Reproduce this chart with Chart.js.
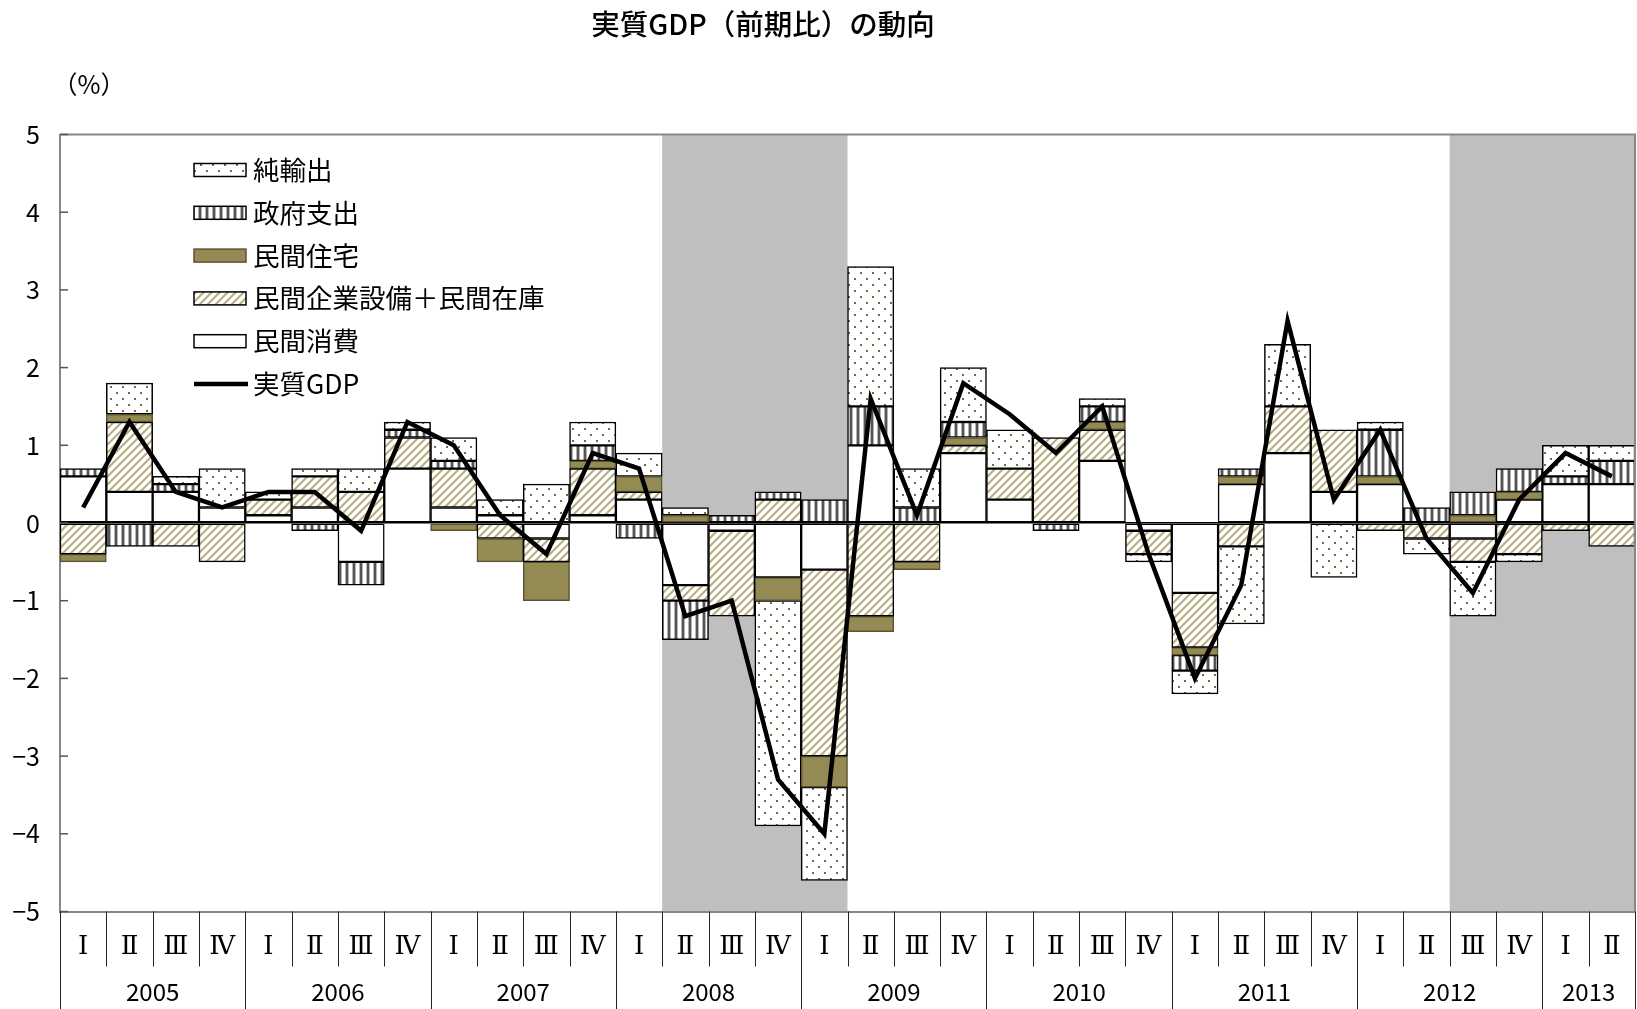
<!DOCTYPE html>
<html>
<head>
<meta charset="utf-8">
<script src="https://cdn.jsdelivr.net/npm/chart.js@4.4.1/dist/chart.umd.min.js"></script>
<style>
html, body { margin: 0; padding: 0; background: #fff; }
#wrap { width: 1637px; height: 1009px; }
</style>
</head>
<body>
<div id="wrap"><canvas id="myChart" width="1637" height="1009"></canvas></div>
<script>
const quarterLabels = ['Ⅰ','Ⅱ','Ⅲ','Ⅳ','Ⅰ','Ⅱ','Ⅲ','Ⅳ','Ⅰ','Ⅱ','Ⅲ','Ⅳ','Ⅰ','Ⅱ','Ⅲ','Ⅳ',
    'Ⅰ','Ⅱ','Ⅲ','Ⅳ','Ⅰ','Ⅱ','Ⅲ','Ⅳ','Ⅰ','Ⅱ','Ⅲ','Ⅳ','Ⅰ','Ⅱ','Ⅲ','Ⅳ','Ⅰ','Ⅱ'];
const years = ['2005','2006','2007','2008','2009','2010','2011','2012','2013'];
const quartersPerYear = [4, 4, 4, 4, 4, 4, 4, 4, 2];
// shaded periods, first and last quarter index
const shadedRanges = [[13, 16], [30, 33]];

const consumption = [0.6, 0.4, 0.4, 0.2, 0.1, 0.2, -0.5, 0.7, 0.2, 0.1, -0.2, 0.1, 0.3, -0.8, -0.1, -0.7,
    -0.6, 1.0, 0, 0.9, 0.3, 0, 0.8, -0.1, -0.9, 0.5, 0.9, 0.4, 0.5, 0, -0.2, 0.3, 0.5, 0.5];
const investment = [-0.4, 0.9, -0.3, -0.5, 0.2, 0.4, 0.4, 0.4, 0.5, -0.2, -0.3, 0.6, 0.1, -0.2, -1.1, 0.3,
    -2.4, -1.2, -0.5, 0.1, 0.4, 1.1, 0.4, -0.3, -0.7, -0.3, 0.6, 0.8, -0.1, -0.2, -0.3, -0.4, -0.1, -0.3];
const housing = [-0.1, 0.1, 0, 0, 0, 0, 0, 0, -0.1, -0.3, -0.5, 0.1, 0.2, 0.1, 0, -0.3,
    -0.4, -0.2, -0.1, 0.1, 0, 0, 0.1, 0, -0.1, 0.1, 0, 0, 0.1, 0, 0.1, 0.1, 0, 0];
const government = [0.1, -0.3, 0.1, 0, 0, -0.1, -0.3, 0.1, 0.1, 0, 0, 0.2, -0.2, -0.5, 0.1, 0.1,
    0.3, 0.5, 0.2, 0.2, 0, -0.1, 0.2, 0, -0.2, 0.1, 0, 0, 0.6, 0.2, 0.3, 0.3, 0.1, 0.3];
const netExports = [0, 0.4, 0.1, 0.5, 0.1, 0.1, 0.3, 0.1, 0.3, 0.2, 0.5, 0.3, 0.3, 0.1, 0, -2.9,
    -1.2, 1.8, 0.5, 0.7, 0.5, 0, 0.1, -0.1, -0.3, -1.0, 0.8, -0.7, 0.1, -0.2, -0.7, -0.1, 0.4, 0.2];
const realGDP = [0.2, 1.3, 0.4, 0.2, 0.4, 0.4, -0.1, 1.3, 1.0, 0.1, -0.4, 0.9, 0.7, -1.2, -1.0, -3.3,
    -4.0, 1.6, 0.1, 1.8, 1.4, 0.9, 1.5, -0.4, -2.0, -0.8, 2.6, 0.3, 1.2, -0.2, -0.9, 0.3, 0.9, 0.6];

const FONT = '"Noto Sans CJK JP", "Noto Sans", sans-serif';
const ctx = document.getElementById('myChart').getContext('2d');

function makePattern(w, h, draw) {
    const c = document.createElement('canvas');
    c.width = w;
    c.height = h;
    const g = c.getContext('2d');
    g.fillStyle = '#fff';
    g.fillRect(0, 0, w, h);
    draw(g);
    return ctx.createPattern(c, 'repeat');
}

const dots = makePattern(12, 12, g => {
    g.fillStyle = '#6f6a50';
    g.fillRect(2, 2, 2, 2);
    g.fillRect(8, 8, 2, 2);
});
const stripes = makePattern(7, 4, g => {
    g.fillStyle = '#b4b4b4';
    g.fillRect(2, 0, 1, 4);
    g.fillRect(5, 0, 1, 4);
    g.fillStyle = '#555';
    g.fillRect(3, 0, 2, 4);
});
const hatch = makePattern(8, 8, g => {
    g.strokeStyle = '#b8ad80';
    g.lineWidth = 2;
    g.beginPath();
    g.moveTo(-1, 9); g.lineTo(9, -1);
    g.moveTo(-1, 1); g.lineTo(1, -1);
    g.moveTo(7, 9); g.lineTo(9, 7);
    g.stroke();
});
const olive = '#948a54';

// year tick positions = middle of each year's quarters
const yearCenters = [];
let start = 0;
quartersPerYear.forEach(n => { yearCenters.push(start + (n - 1) / 2); start += n; });

const backdrop = {
    id: 'backdrop',
    beforeDraw(chart) {
        const {ctx, chartArea: a, scales: {x}} = chart;
        ctx.save();
        ctx.fillStyle = '#fff';
        ctx.fillRect(0, 0, chart.width, chart.height);
        const half = (x.getPixelForValue(1) - x.getPixelForValue(0)) / 2;
        ctx.fillStyle = '#bfbfbf';
        shadedRanges.forEach(([s, e]) => {
            const x0 = x.getPixelForValue(s) - half;
            const x1 = x.getPixelForValue(e) + half;
            ctx.fillRect(x0, a.top, x1 - x0, a.bottom - a.top);
        });
        ctx.restore();
    }
};

const frame = {
    id: 'frame',
    afterDraw(chart) {
        const {ctx, chartArea: a, scales: {x, y}} = chart;
        ctx.save();
        // top and right border
        ctx.strokeStyle = '#878787';
        ctx.lineWidth = 2;
        ctx.beginPath();
        ctx.moveTo(a.left, a.top);
        ctx.lineTo(a.right, a.top);
        ctx.lineTo(a.right, a.bottom);
        ctx.stroke();
        // inner y ticks
        ctx.strokeStyle = '#555';
        ctx.lineWidth = 1.5;
        y.ticks.forEach(t => {
            const py = y.getPixelForValue(t.value);
            ctx.beginPath();
            ctx.moveTo(a.left, py);
            ctx.lineTo(a.left + 8, py);
            ctx.stroke();
        });
        // category separators under the axis
        const half = (x.getPixelForValue(1) - x.getPixelForValue(0)) / 2;
        const yearEdges = [0];
        quartersPerYear.forEach(n => yearEdges.push(yearEdges[yearEdges.length - 1] + n));
        ctx.strokeStyle = '#222';
        ctx.lineWidth = 1;
        for (let i = 0; i <= quarterLabels.length; i++) {
            const px = Math.round(x.getPixelForValue(Math.min(i, quarterLabels.length - 1)) + (i < quarterLabels.length ? -half : half)) + 0.5;
            const isYear = yearEdges.includes(i);
            ctx.beginPath();
            ctx.moveTo(px, a.bottom);
            ctx.lineTo(px, isYear ? chart.height : a.bottom + 55);
            ctx.stroke();
        }
        // title and unit
        ctx.fillStyle = '#000';
        ctx.textBaseline = 'middle';
        ctx.textAlign = 'center';
        ctx.font = '500 28.5px ' + FONT;
        ctx.fillText('実質GDP（前期比）の動向', 763, 24);
        ctx.font = '25px ' + FONT;
        ctx.fillText('（%）', 89, 84);
        // legend
        const items = [
            {label: '純輸出', fill: dots},
            {label: '政府支出', fill: stripes},
            {label: '民間住宅', fill: olive, border: '#5c5431'},
            {label: '民間企業設備＋民間在庫', fill: hatch},
            {label: '民間消費', fill: '#fff'},
            {label: '実質GDP', line: true}
        ];
        ctx.textAlign = 'left';
        ctx.font = '26.5px ' + FONT;
        items.forEach((it, i) => {
            const cy = 170 + i * 42.8;
            if (it.line) {
                ctx.strokeStyle = '#000';
                ctx.lineWidth = 4.5;
                ctx.beginPath();
                ctx.moveTo(194, cy);
                ctx.lineTo(248, cy);
                ctx.stroke();
            } else {
                ctx.fillStyle = it.fill;
                ctx.fillRect(194, cy - 6.5, 52, 13);
                ctx.strokeStyle = it.border || '#000';
                ctx.lineWidth = 1.5;
                ctx.strokeRect(194, cy - 6.5, 52, 13);
            }
            ctx.fillStyle = '#000';
            ctx.fillText(it.label, 253, cy);
        });
        ctx.restore();
    }
};

function barSet(label, data, bg, border) {
    return {
        type: 'bar',
        label: label,
        data: data,
        backgroundColor: bg,
        borderColor: border || '#000',
        borderWidth: 1.5,
        borderSkipped: false,
        stack: 'parts',
        order: 1,
        xAxisID: 'x',
        yAxisID: 'y'
    };
}

const myChart = new Chart(ctx, {
    data: {
        labels: quarterLabels,
        datasets: [
            {
                type: 'line',
                label: '実質GDP',
                data: realGDP,
                borderColor: '#000',
                borderWidth: 4.5,
                pointRadius: 0,
                tension: 0,
                fill: false,
                stack: 'gdp',
                order: 0,
                xAxisID: 'x',
                yAxisID: 'y'
            },
            barSet('民間消費', consumption, '#fff'),
            barSet('民間企業設備＋民間在庫', investment, hatch),
            barSet('民間住宅', housing, olive, '#5c5431'),
            barSet('政府支出', government, stripes),
            barSet('純輸出', netExports, dots)
        ]
    },
    plugins: [backdrop, frame],
    options: {
        responsive: false,
        animation: false,
        layout: { padding: { top: 134.5, right: 2, left: 0, bottom: 0 } },
        datasets: { bar: { barPercentage: 1, categoryPercentage: 1 } },
        plugins: {
            legend: { display: false },
            title: { display: false },
            tooltip: { enabled: false }
        },
        scales: {
            x: {
                type: 'category',
                position: 'bottom',
                stacked: true,
                weight: 0,
                offset: true,
                grid: { display: false },
                border: { display: true, color: '#878787', width: 2 },
                ticks: {
                    color: '#000',
                    font: { family: '"DejaVu Serif", serif', size: 26 },
                    padding: 12,
                    maxRotation: 0,
                    autoSkip: false
                },
                afterFit: s => { s.height = 48; s.paddingLeft = 0; s.paddingRight = 0; }
            },
            year: {
                type: 'linear',
                position: 'bottom',
                weight: 1,
                min: -0.5,
                max: quarterLabels.length - 0.5,
                grid: { display: false },
                border: { display: false },
                afterBuildTicks: s => { s.ticks = yearCenters.map(v => ({ value: v })); },
                ticks: {
                    color: '#000',
                    font: { family: FONT, size: 24 },
                    padding: 10,
                    maxRotation: 0,
                    autoSkip: false,
                    callback: v => years[yearCenters.indexOf(v)]
                },
                afterFit: s => { s.height = 49.5; s.paddingLeft = 0; s.paddingRight = 0; }
            },
            y: {
                stacked: true,
                min: -5,
                max: 5,
                grid: {
                    drawTicks: false,
                    color: c => c.tick && c.tick.value === 0 ? '#000' : 'rgba(0,0,0,0)',
                    lineWidth: 1.5
                },
                border: { display: true, color: '#878787', width: 2 },
                ticks: {
                    stepSize: 1,
                    color: '#000',
                    padding: 20,
                    font: { family: FONT, size: 25 },
                    callback: v => v < 0 ? '−' + Math.abs(v) : String(v)
                },
                afterFit: s => { s.width = 60; s.paddingTop = 0; s.paddingBottom = 0; }
            }
        }
    }
});
</script>
</body>
</html>
